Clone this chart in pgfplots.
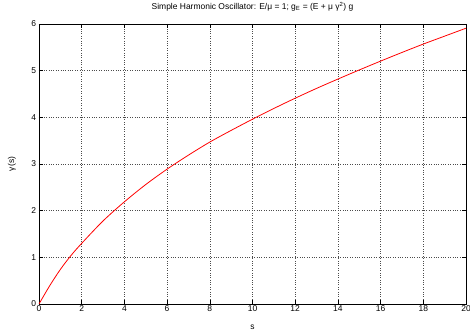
\documentclass[border=0pt]{standalone}
\usepackage{fontspec}
\setmainfont{Liberation Sans}
\usepackage{pgfplots}
\pgfplotsset{compat=1.18}

\begin{document}
\fontsize{8.5}{10}\selectfont
\begin{tikzpicture}
\useasboundingbox (-39bp,-31bp) rectangle (431bp,304bp);
\begin{axis}[
  at={(0,0)}, anchor=south west,
  scale only axis,
  width=427bp,
  height=280bp,
  xmin=0, xmax=20,
  ymin=0, ymax=6,
  xtick={0,2,...,20},
  ytick={0,1,...,6},
  tick align=inside,
  major tick length=4bp,
  tick style={black, line width=0.6pt},
  axis line style={black, line width=0.8pt},
  grid=major,
  grid style={black!70, dotted, line width=0.5pt},
  /pgf/number format/assume math mode=true,
  ticklabel style={font=\fontsize{8.5}{10}\selectfont},
  xticklabel style={yshift=1bp},
  xlabel={s},
  ylabel={γ(s)},
  xlabel style={at={(axis description cs:0.5,0)}, anchor=base, yshift=-25bp},
  ylabel style={at={([xshift=-27bp]axis description cs:0,0.5)}, anchor=center},
  title={Simple Harmonic Oscillator: E/μ = 1; g\textsubscript{E} = (E + μ γ\textsuperscript{2}) g},
  title style={at={(axis description cs:0.5,1)}, anchor=base, yshift=9bp,
               font=\fontsize{8.5}{10}\selectfont},
]
\addplot[red, line width=0.8pt, smooth, tension=0.5] coordinates {
(0,0) (0.5,0.39) (1,0.74) (1.5,1.04) (2,1.30) (3,1.78) (4,2.19)
(5,2.56) (6,2.89) (7,3.19) (8,3.47) (9,3.72) (10,3.96) (11,4.19)
(12,4.41) (13,4.62) (14,4.82) (15,5.015) (16,5.205) (17,5.39)
(18,5.57) (19,5.74) (20,5.91)
};
\end{axis}
\end{tikzpicture}
\end{document}
